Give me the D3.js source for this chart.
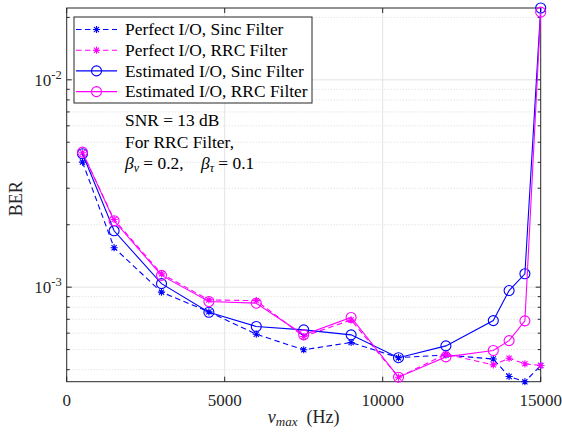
<!DOCTYPE html>
<html>
<head>
<meta charset="utf-8">
<script src="https://cdn.jsdelivr.net/npm/d3@7"></script>
<style>
  body { margin: 0; background: #fff; }
  svg { display: block; font-family: "Liberation Serif", "DejaVu Serif", serif; }
</style>
</head>
<body>
<script>
// data
const nuMax = [500, 1500, 3000, 4500, 6000, 7500, 9000, 10500, 12000, 13500, 14000, 14500, 15000];
const perfectSinc = [4.01e-3, 1.55e-3, 0.946e-3, 7.6e-4, 5.93e-4, 4.99e-4, 5.41e-4, 4.57e-4, 4.71e-4, 4.50e-4, 3.71e-4, 3.50e-4, 4.19e-4];
const perfectRrc = [4.45e-3, 2.12e-3, 1.16e-3, 8.68e-4, 8.61e-4, 5.78e-4, 6.95e-4, 3.68e-4, 4.75e-4, 4.22e-4, 4.54e-4, 4.27e-4, 4.19e-4];
const estSinc = [4.40e-3, 1.87e-3, 1.04e-3, 7.57e-4, 6.46e-4, 6.22e-4, 5.89e-4, 4.57e-4, 5.21e-4, 6.90e-4, 9.63e-4, 1.16e-3, 0.0222];
const estRrc = [4.48e-3, 2.09e-3, 1.14e-3, 8.53e-4, 8.37e-4, 5.89e-4, 7.14e-4, 3.68e-4, 4.61e-4, 4.95e-4, 5.52e-4, 6.88e-4, 0.0212];
const xTicks = [0, 5000, 10000, 15000];
const yTicks = [1e-3, 1e-2];

const series = [
  {name: "Perfect I/O, Sinc Filter", values: perfectSinc, color: "#0000ff", dash: "5.5,3.5", marker: "star"},
  {name: "Perfect I/O, RRC Filter", values: perfectRrc, color: "#ff00ff", dash: "5.5,3.5", marker: "star"},
  {name: "Estimated I/O, Sinc Filter", values: estSinc, color: "#0000ff", dash: null, marker: "circle"},
  {name: "Estimated I/O, RRC Filter", values: estRrc, color: "#ff00ff", dash: null, marker: "circle"}
];

const W = 562, H = 432;
const margin = {top: 8, right: 21.3, bottom: 50.3, left: 66.7};
const width = W - margin.left - margin.right,
      height = H - margin.top - margin.bottom;
const axisColor = "#262626";

const svg = d3.select("body").append("svg")
    .attr("width", W)
    .attr("height", H);

const allVals = series.flatMap(s => s.values);
const x = d3.scaleLinear().domain([0, 15000]).range([0, width]);
const y = d3.scaleLog().domain(d3.extent(allVals)).range([height, 0]);

const g = svg.append("g")
    .attr("transform", "translate(" + margin.left + "," + margin.top + ")");

// minor y grid (dotted)
const minorY = [];
[1e-4, 1e-3, 1e-2].forEach(dec => {
  for (let k = 2; k <= 9; k++) {
    let v = dec * k;
    if (v >= y.domain()[0] && v <= y.domain()[1]) minorY.push(v);
  }
});
g.selectAll("line.minor").data(minorY).enter().append("line")
    .attr("class", "minor")
    .attr("x1", 0).attr("x2", width)
    .attr("y1", d => y(d)).attr("y2", d => y(d))
    .attr("stroke", "#d9d9d9").attr("stroke-width", 1)
    .attr("stroke-dasharray", "1,2");

// major grid
g.selectAll("line.gy").data(yTicks).enter().append("line")
    .attr("class", "gy")
    .attr("x1", 0).attr("x2", width)
    .attr("y1", d => y(d)).attr("y2", d => y(d))
    .attr("stroke", "#e3e3e3").attr("stroke-width", 1);
g.selectAll("line.gx").data(xTicks.slice(1, 3)).enter().append("line")
    .attr("class", "gx")
    .attr("y1", 0).attr("y2", height)
    .attr("x1", d => x(d)).attr("x2", d => x(d))
    .attr("stroke", "#e3e3e3").attr("stroke-width", 1);

// ticks (inward, on all four sides)
const tickLen = 5, minorLen = 3;
xTicks.forEach(t => {
  g.append("line").attr("x1", x(t)).attr("x2", x(t)).attr("y1", height).attr("y2", height - tickLen)
    .attr("stroke", axisColor);
  g.append("line").attr("x1", x(t)).attr("x2", x(t)).attr("y1", 0).attr("y2", tickLen)
    .attr("stroke", axisColor);
});
yTicks.forEach(t => {
  g.append("line").attr("x1", 0).attr("x2", tickLen).attr("y1", y(t)).attr("y2", y(t)).attr("stroke", axisColor);
  g.append("line").attr("x1", width).attr("x2", width - tickLen).attr("y1", y(t)).attr("y2", y(t)).attr("stroke", axisColor);
});
minorY.forEach(t => {
  g.append("line").attr("x1", 0).attr("x2", minorLen).attr("y1", y(t)).attr("y2", y(t)).attr("stroke", axisColor);
  g.append("line").attr("x1", width).attr("x2", width - minorLen).attr("y1", y(t)).attr("y2", y(t)).attr("stroke", axisColor);
});

// box
g.append("rect")
    .attr("width", width).attr("height", height)
    .attr("fill", "none").attr("stroke", axisColor).attr("stroke-width", 1);

// tick labels
g.selectAll("text.xt").data(xTicks).enter().append("text")
    .attr("class", "xt")
    .attr("x", d => x(d)).attr("y", height + 24)
    .attr("text-anchor", "middle")
    .attr("font-size", 17).attr("fill", axisColor)
    .text(d => d);

yTicks.forEach(t => {
  let txt = g.append("text")
      .attr("x", -5).attr("y", y(t) + 6)
      .attr("text-anchor", "end")
      .attr("font-size", 17).attr("fill", axisColor);
  txt.append("tspan").text("10");
  txt.append("tspan").attr("dy", -7).attr("font-size", 12.5).text("-" + Math.round(-Math.log10(t)));
});

// axis labels
svg.append("text")
    .attr("x", margin.left + width / 2).attr("y", 423)
    .attr("text-anchor", "middle").attr("font-size", 18).attr("fill", axisColor)
    .call(t => {
      t.append("tspan").attr("font-style", "italic").text("ν");
      t.append("tspan").attr("font-style", "italic").attr("font-size", 13).attr("dy", 3).text("max");
      t.append("tspan").attr("dy", -3).text("\u2002(Hz)");
    });

svg.append("text")
    .attr("transform", "translate(22," + (margin.top + height / 2 + 4) + ") rotate(-90)")
    .attr("text-anchor", "middle").attr("font-size", 18).attr("fill", axisColor)
    .text("BER");

// lines + markers
const line = d3.line()
    .x((d, i) => x(nuMax[i]))
    .y(d => y(d));

function drawMarker(sel, s) {
  if (s.marker == "circle") {
    sel.append("circle").attr("r", 5)
      .attr("fill", "none").attr("stroke", s.color).attr("stroke-width", 1.1);
  } else {
    const r = 3.6, r2 = r * 0.72;
    const p = "M0," + (-r) + "V" + r + "M" + (-r) + ",0H" + r +
      "M" + (-r2) + "," + (-r2) + "L" + r2 + "," + r2 +
      "M" + (-r2) + "," + r2 + "L" + r2 + "," + (-r2);
    sel.append("path").attr("d", p)
      .attr("fill", "none").attr("stroke", s.color).attr("stroke-width", 1.1);
  }
}

series.forEach(s => {
  g.append("path")
    .datum(s.values)
    .attr("d", line)
    .attr("fill", "none")
    .attr("stroke", s.color)
    .attr("stroke-width", 1.1)
    .attr("stroke-dasharray", s.dash);
  g.selectAll(null).data(s.values).enter().append("g")
    .attr("transform", (d, i) => "translate(" + x(nuMax[i]) + "," + y(d) + ")")
    .each(function() { drawMarker(d3.select(this), s); });
});

// legend
const leg = svg.append("g").attr("transform", "translate(74,17)");
leg.append("rect").attr("width", 238).attr("height", 86)
    .attr("fill", "#fff").attr("stroke", axisColor).attr("stroke-width", 1);
series.forEach((s, i) => {
  let row = leg.append("g").attr("transform", "translate(0," + (12.5 + i * 20.7) + ")");
  row.append("line").attr("x1", 2).attr("x2", 43)
    .attr("stroke", s.color).attr("stroke-width", 1.1)
    .attr("stroke-dasharray", s.dash);
  drawMarker(row.append("g").attr("transform", "translate(22.5,0)"), s);
  row.append("text").attr("x", 51).attr("y", 5.8)
    .attr("font-size", 17.4).attr("fill", "#000")
    .text(s.name);
});

// annotation
const note = svg.append("g").attr("transform", "translate(125,0)").attr("font-size", 17.4).attr("fill", "#000");
note.append("text").attr("y", 126).text("SNR\u2005=\u200513 dB");
note.append("text").attr("y", 147.5).text("For RRC Filter,");
note.append("text").attr("y", 169).call(t => {
  t.append("tspan").attr("font-style", "italic").text("β");
  t.append("tspan").attr("font-style", "italic").attr("font-size", 12).attr("dy", 3).text("ν");
  t.append("tspan").attr("dy", -3).text("\u2005=\u20050.2,\u2003");
  t.append("tspan").attr("font-style", "italic").text("β");
  t.append("tspan").attr("font-style", "italic").attr("font-size", 12).attr("dy", 3).text("τ");
  t.append("tspan").attr("dy", -3).text("\u2005=\u20050.1");
});
</script>
</body>
</html>
